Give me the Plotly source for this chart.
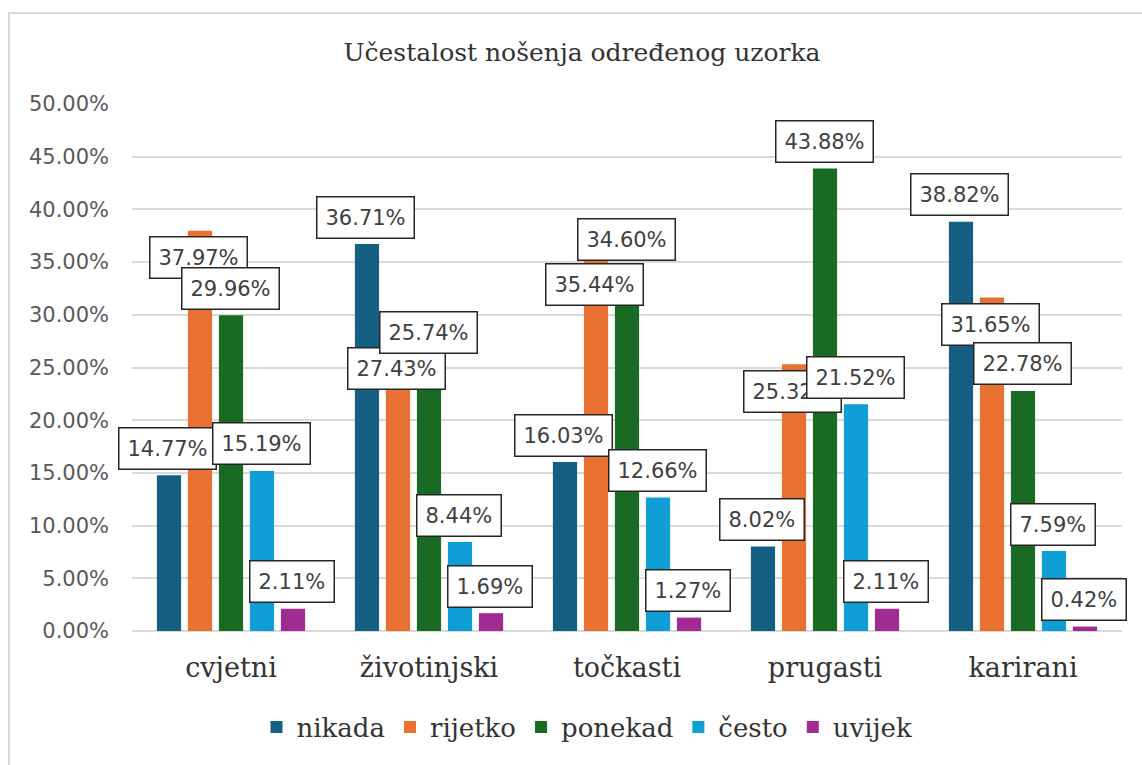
import plotly.graph_objects as go

categories = ["cvjetni", "životinjski", "točkasti", "prugasti", "karirani"]
series_names = ["nikada", "rijetko", "ponekad", "često", "uvijek"]
nikada = [14.77, 36.71, 16.03, 8.02, 38.82]
rijetko = [37.97, 27.43, 35.44, 25.32, 31.65]
ponekad = [29.96, 25.74, 34.60, 43.88, 22.78]
cesto = [15.19, 8.44, 12.66, 21.52, 7.59]
uvijek = [2.11, 1.69, 1.27, 2.11, 0.42]
series_values = [nikada, rijetko, ponekad, cesto, uvijek]
colors = ["#156082", "#E97132", "#196B24", "#0F9ED5", "#A02B93"]

# label placement per series: 1 = above bar end, -1 = just inside below bar end
label_side = [1, -1, 1, 1, 1]

W, H = 1142, 765
L, R, T, B = 132, 20, 104, 134

fig = go.Figure()
for name, vals, col in zip(series_names, series_values, colors):
    fig.add_trace(go.Bar(x=categories, y=vals, name=name, marker_color=col,
                         marker_line_width=0, hoverinfo="skip"))

slot = (1 - 0.217) * (W - L - R) / len(categories) / len(series_names)
for si, vals in enumerate(series_values):
    for ci, v in enumerate(vals):
        fig.add_annotation(
            x=categories[ci], y=v, xref="x", yref="y",
            text=f"{v:.2f}%", showarrow=False,
            xshift=(si - 2) * slot - 1, yshift=27 * label_side[si],
            font=dict(family="DejaVu Sans", size=21, color="#404040"),
            bgcolor="white", bordercolor="#262626", borderwidth=1.5, borderpad=8,
        )

# outer chart frame
fig.add_shape(type="rect", xref="paper", yref="paper",
              x0=(9 - L) / (W - L - R), x1=1.08,
              y0=-0.3, y1=(H - B - 13) / (H - T - B),
              line=dict(color="#d9d9d9", width=2), fillcolor="rgba(0,0,0,0)", layer="below")

fig.update_layout(
    width=W, height=H,
    margin=dict(l=L, r=R, t=T, b=B, autoexpand=False),
    paper_bgcolor="white", plot_bgcolor="white",
    barmode="group", bargap=0.217, bargroupgap=0.22,
    title=dict(text="Učestalost nošenja određenog uzorka",
               x=582 / W, xref="container", xanchor="center",
               y=1 - 52 / H, yref="container", yanchor="middle",
               font=dict(family="DejaVu Serif", size=25, color="#333333")),
    legend=dict(orientation="h", xref="container", yref="container",
                x=587 / W, xanchor="center", y=1 - 727 / H, yanchor="middle",
                font=dict(family="DejaVu Serif", size=26, color="#333333"),
                itemwidth=30, traceorder="normal"),
    xaxis=dict(range=[-0.5, len(categories) - 0.5], autorange=False,
               showgrid=False, showline=False, ticks="", automargin=False,
               tickfont=dict(family="DejaVu Serif", size=27, color="#333333"),
               ticklabelstandoff=18),
    yaxis=dict(range=[0, 50], autorange=False, dtick=5, tickformat=".2f", ticksuffix="%",
               showgrid=True, gridcolor="#d9d9d9", gridwidth=2,
               zeroline=True, zerolinecolor="#d9d9d9", zerolinewidth=2,
               showline=False, ticks="", automargin=False,
               tickfont=dict(family="DejaVu Sans", size=21, color="#595959"),
               ticklabelstandoff=22),
)

fig.write_html("out.html", config={"displayModeBar": False},
               post_script="document.body.style.margin='0';document.body.style.padding='0';document.body.style.overflow='hidden';")
